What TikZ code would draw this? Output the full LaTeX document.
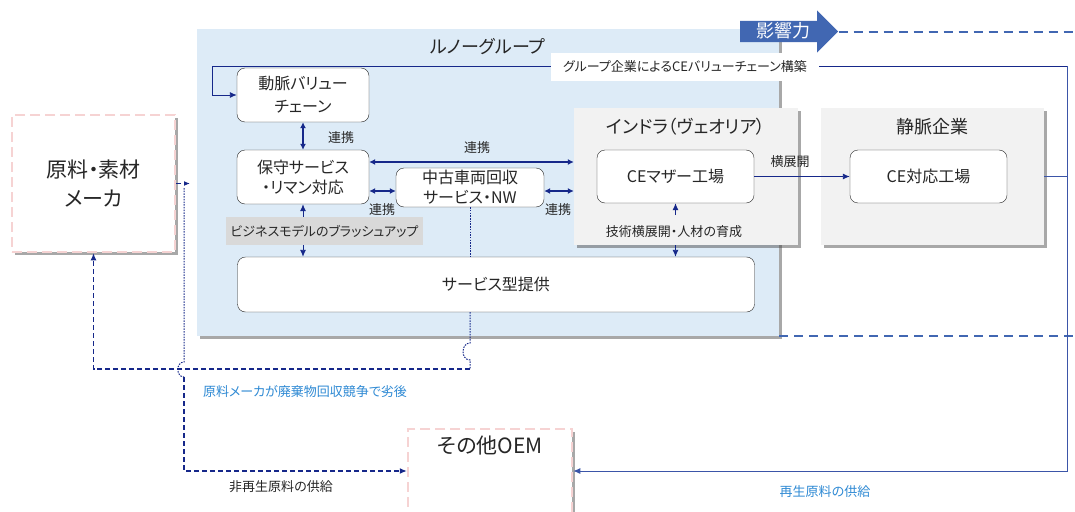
\documentclass[tikz,border=0pt]{standalone}
\usepackage{fontspec}
\setmainfont{Noto Sans CJK JP}[RawFeature=+palt]
\usetikzlibrary{positioning,arrows.meta,shadows,shapes.arrows}
\definecolor{navyline}{HTML}{16288A}
\definecolor{edgeblue}{HTML}{3B55A8}
\definecolor{groupblue}{HTML}{DDEBF7}
\definecolor{boxgray}{HTML}{F2F2F2}
\definecolor{taggray}{HTML}{D9D9D9}
\definecolor{pinkdash}{HTML}{F6D3D3}
\definecolor{noteblue}{HTML}{2F8AD4}
\definecolor{influence}{HTML}{4167B2}
\definecolor{textdark}{HTML}{262626}
\tikzset{
    soft-shadow/.style = {drop shadow={shadow xshift=3pt, shadow yshift=-3pt, fill=black!75, opacity=0.45}},
    group-box/.style = {fill=groupblue, inner sep=0pt, soft-shadow},
    company-box/.style = {fill=boxgray, inner sep=0pt, soft-shadow},
    maker-box/.style = {draw=pinkdash, line width=2.5pt, dash pattern=on 10pt off 5pt, fill=white, inner sep=0pt, align=center, text=textdark, font=\fontsize{21}{29}\selectfont, soft-shadow},
    round-box/.style = {draw=textdark, fill=white, thin, rectangle, rounded corners=8pt, inner sep=0pt, align=center, text=textdark, font=\fontsize{16}{20}\selectfont},
    box-title/.style = {text=textdark, font=\fontsize{18}{22}\selectfont, inner sep=0pt},
    small-text/.style = {text=textdark, font=\fontsize{13}{15}\selectfont, inner sep=1pt},
    note-text/.style = {text=noteblue, font=\fontsize{13}{15}\selectfont, inner sep=1pt},
    link/.style = {navyline, line width=0.9pt, -{Latex[length=7pt,width=6pt]}},
    both-link/.style = {navyline, line width=1.3pt, {Latex[length=6pt,width=6pt]}-{Latex[length=6pt,width=6pt]}},
    dash-link/.style = {navyline, line width=1.2pt, dash pattern=on 5pt off 3pt},
    dot-link/.style = {navyline, line width=1pt, dash pattern=on 1.5pt off 1.2pt},
    influence-line/.style = {influence, line width=2pt, dash pattern=on 9pt off 6pt},
}

\begin{document}
\begin{tikzpicture}[x=1pt, y=-1pt]
\path[use as bounding box, fill=white] (0,0) rectangle (1075,511);

% Renault group
\node[group-box, minimum width=582pt, minimum height=307pt] (renault) at (488,182.5) {};
\node[box-title, below=9pt] (renault-title) at (renault.north) {ルノーグループ};

% companies
\node[company-box, minimum width=224pt, minimum height=137pt] (indra) at (686,176.5) {};
\node[box-title, below=10pt] (indra-title) at (indra.north) {インドラ（ヴェオリア）};
\node[company-box, minimum width=223pt, minimum height=137pt] (jomyaku) at (932.5,176.5) {};
\node[box-title, below=10pt] (jomyaku-title) at (jomyaku.north) {静脈企業};

% makers
\node[maker-box, minimum width=163pt, minimum height=137pt] (genryo) at (93.5,183.5) {原料・素材\\メーカ};
\node[maker-box, minimum width=164pt, minimum height=84pt] (oem) at (490,471) {};
\node[box-title, font=\fontsize{21}{25}\selectfont, below=8pt] (oem-title) at (oem.north) {その他OEM};

% inner boxes
\node[round-box, minimum width=132pt, minimum height=54pt, font=\fontsize{16}{23}\selectfont] (doumyaku) at (303,95) {動脈バリュー\\チェーン};
\node[round-box, minimum width=132pt, minimum height=54pt] (hoshu) at (303,177) {保守サービス\\・リマン対応};
\node[round-box, minimum width=148pt, minimum height=39pt] (chuko) at (470,187.5) {中古車両回収\\サービス・NW};
\node[fill=taggray, minimum width=197pt, minimum height=28pt, small-text, inner sep=0pt] (brushup) at (324.5,231) {ビジネスモデルのブラッシュアップ};
\node[round-box, minimum width=517pt, minimum height=55pt] (service) at (496,284.5) {サービス型提供};
\node[round-box, minimum width=157pt, minimum height=53pt] (mother) at (675.5,176.5) {CEマザー工場};
\node[round-box, minimum width=157pt, minimum height=53pt] (cefactory) at (928.5,176.5) {CE対応工場};

% influence
\node[single arrow, fill=influence, text=white, font=\fontsize{18}{20}\selectfont, single arrow head extend=10.5pt, minimum height=98pt, text height=14pt, text depth=3pt, inner ysep=2pt, inner xsep=4pt, anchor=west] (influence-arrow) at (740,31.5) {影響力};
\coordinate (east-edge) at (1075,0);
\draw[influence-line] (influence-arrow.tip) -- (influence-arrow.tip -| east-edge);
\draw[influence-line] (renault.south east) -- (renault.south east -| east-edge);

% group value chain loop
\coordinate (ne-corner) at (1067,66);
\coordinate (loop-corner) at (212,66);
\draw[link] (ne-corner) -- (loop-corner) |- (doumyaku.west);
\draw[edgeblue, line width=1pt] (jomyaku.east) -- (jomyaku.east -| ne-corner);
\draw[link, edgeblue, line width=1pt] (ne-corner) |- (oem.east);
\node[fill=white, small-text, minimum width=268pt, minimum height=28pt] (cevc-label) at (685,67) {グループ企業によるCEバリューチェーン構築};

% 連携
\draw[both-link] (doumyaku.south) -- (hoshu.north);
\node[small-text] (renkei-1) at (341,138) {連携};
\draw[both-link] ([yshift=15pt]hoshu.east) -- ([yshift=15pt]hoshu.east -| indra.west);
\node[small-text] (renkei-2) at (477,148) {連携};
\draw[both-link] ([yshift=-3.5pt]chuko.west) -- ([yshift=-3.5pt]chuko.west -| hoshu.east);
\node[small-text] (renkei-3) at (382,210) {連携};
\draw[both-link] ([yshift=-3.5pt]chuko.east) -- ([yshift=-3.5pt]chuko.east -| indra.west);
\node[small-text] (renkei-4) at (558,210) {連携};

\draw[link] (brushup.north -| hoshu.south) -- (hoshu.south);
\draw[link] (brushup.south -| hoshu.south) -- (service.north -| hoshu.south);

\node[small-text] (gijutsu) at (674,232) {技術横展開・人材の育成};
\draw[link] ([yshift=-12pt]mother.south) -- (mother.south);
\draw[link] (indra.south -| mother.south) -- (service.north -| mother.south);

\draw[link] (mother.east) -- (cefactory.west);
\node[small-text] (yokotenkai) at (790,162) {横展開};

% material flows
\coordinate (jump-r-top) at (470,343);
\coordinate (jump-r-bot) at (470,360);
\coordinate (return-corner) at (470,369);
\draw[dot-link] (chuko.south) -- (chuko.south |- service.north);
\draw[dot-link] (chuko.south |- service.south) -- (jump-r-top) to[out=180, in=180, looseness=1.4] (jump-r-bot) -- (return-corner);
\draw[dash-link, -{Latex[length=7pt,width=6pt]}] (return-corner) -| (genryo.south);

\coordinate (genryo-out) at (190,183.5);
\coordinate (feed-top) at (184,188);
\coordinate (jump-l-top) at (184,362);
\coordinate (jump-l-bot) at (184,377);
\draw[dash-link, -{Latex[length=6pt,width=5pt]}] (genryo.east) -- (genryo-out);
\draw[dot-link] (feed-top) -- (jump-l-top) to[out=180, in=180, looseness=1.4] (jump-l-bot);
\draw[dash-link, -{Latex[length=7pt,width=6pt]}] (jump-l-bot) |- (oem.west);

\node[note-text] (lag-note) at (305,392) {原料メーカが廃棄物回収競争で劣後};
\node[small-text] (virgin-note) at (281,487) {非再生原料の供給};
\node[note-text] (recycled-note) at (825,492) {再生原料の供給};
\end{tikzpicture}
\end{document}
